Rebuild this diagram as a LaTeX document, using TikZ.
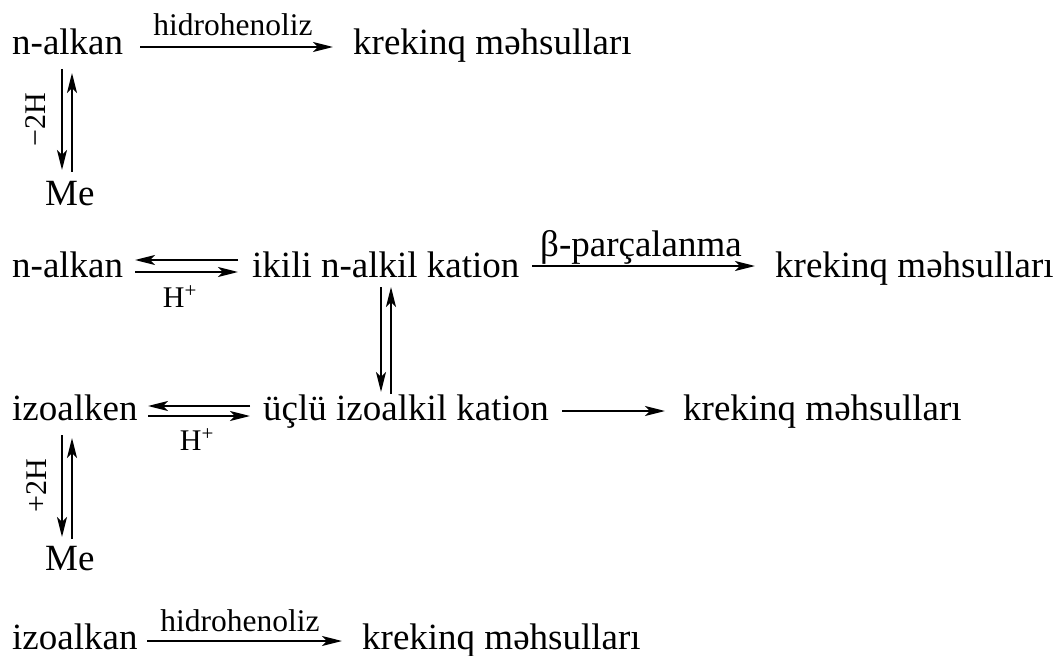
\documentclass[tikz,border=0pt]{standalone}
\usepackage{fontspec}
\setmainfont{Liberation Serif}
\usetikzlibrary{arrows.meta}
\tikzset{
  txt/.style={anchor=base west, inner sep=0pt, font=\fontsize{37}{44}\selectfont},
  lbl/.style={anchor=base, inner sep=0pt, font=\fontsize{31.5}{38}\selectfont},
  hlbl/.style={anchor=base, inner sep=0pt, font=\fontsize{30}{36}\selectfont},
  rlbl/.style={anchor=center, inner sep=0pt, rotate=90, font=\fontsize{30}{36}\selectfont},
  arr/.style={line width=2.2pt, -{Stealth[length=20pt,width=10pt,inset=5pt]}},
}
\begin{document}
\begin{tikzpicture}[x=1pt,y=-1pt]
\useasboundingbox[fill=white] (0,0) rectangle (1056,655);

% Row 1
\node[txt] (r1a) at (12,55) {n-alkan};
\node[txt] (r1k) at (353,55) {krekinq məhsulları};
\node[lbl] (r1l) at (233,36) {hidrohenoliz};
\coordinate (r1s) at (140,47); \coordinate (r1e) at (333,47);
\draw[arr] (r1s) -- (r1e);
\node[txt] (me1) at (45,205) {Me};
\node[rlbl] (m2h) at (36,120) {−2H};
\coordinate (v1dS) at (62,69); \coordinate (v1dE) at (62,170);
\coordinate (v1uS) at (72,172); \coordinate (v1uE) at (72,73);
\draw[arr] (v1dS) -- (v1dE);
\draw[arr] (v1uS) -- (v1uE);

% Row 2
\node[txt] (r2a) at (12,277) {n-alkan};
\coordinate (e2tS) at (238,260); \coordinate (e2tE) at (135,260);
\coordinate (e2bS) at (135,272); \coordinate (e2bE) at (238,272);
\draw[arr] (e2tS) -- (e2tE);
\draw[arr] (e2bS) -- (e2bE);
\node[hlbl] (h2) at (180,307) {H\textsuperscript{+}};
\node[txt] (r2b) at (252,277) {ikili n-alkil kation};
\node[txt, anchor=base] (beta) at (641,256) {β-parçalanma};
\coordinate (b2S) at (532,266); \coordinate (b2E) at (755,266);
\draw[arr] (b2S) -- (b2E);
\node[txt] (r2k) at (775,277) {krekinq məhsulları};

% Row 2 <-> Row 3
\coordinate (v2dS) at (381,287); \coordinate (v2dE) at (381,392);
\coordinate (v2uS) at (391,394); \coordinate (v2uE) at (391,287);
\draw[arr] (v2dS) -- (v2dE);
\draw[arr] (v2uS) -- (v2uE);

% Row 3
\node[txt] (r3a) at (12,420) {izoalken};
\coordinate (e3tS) at (250,406); \coordinate (e3tE) at (148,406);
\coordinate (e3bS) at (148,416); \coordinate (e3bE) at (250,416);
\draw[arr] (e3tS) -- (e3tE);
\draw[arr] (e3bS) -- (e3bE);
\node[hlbl] (h3) at (197,450) {H\textsuperscript{+}};
\node[txt] (r3b) at (263,420) {üçlü izoalkil kation};
\coordinate (c3S) at (562,411); \coordinate (c3E) at (665,411);
\draw[arr] (c3S) -- (c3E);
\node[txt] (r3k) at (683,420) {krekinq məhsulları};

% Row 3 <-> Me
\coordinate (v3dS) at (62,435); \coordinate (v3dE) at (62,537);
\coordinate (v3uS) at (72,539); \coordinate (v3uE) at (72,438);
\draw[arr] (v3dS) -- (v3dE);
\draw[arr] (v3uS) -- (v3uE);
\node[rlbl] (p2h) at (37,486) {+2H};
\node[txt] (me2) at (45,570) {Me};

% Row 4
\node[txt] (r4a) at (12,649) {izoalkan};
\node[lbl] (r4l) at (240,631) {hidrohenoliz};
\coordinate (r4s) at (147,641); \coordinate (r4e) at (342,641);
\draw[arr] (r4s) -- (r4e);
\node[txt] (r4k) at (362,649) {krekinq məhsulları};
\end{tikzpicture}
\end{document}
